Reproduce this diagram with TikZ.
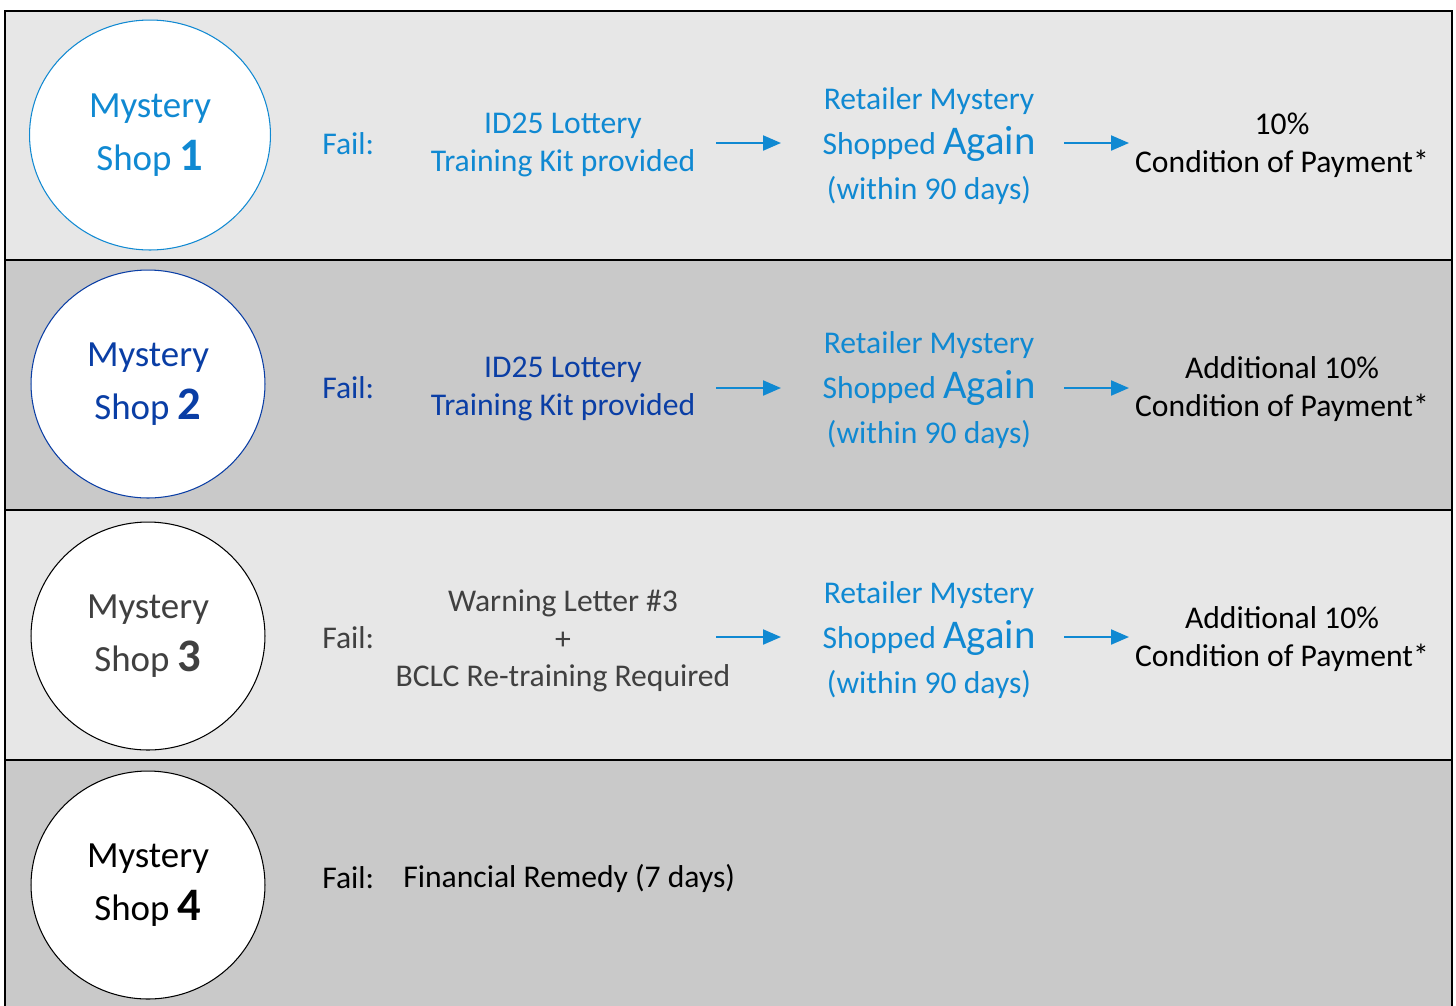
\documentclass[tikz,border=0pt]{standalone}
\usepackage{fontspec}
\setmainfont{Carlito}
\usetikzlibrary{arrows.meta,shapes.geometric}
\definecolor{shopblue}{RGB}{16,137,210}
\definecolor{shopnavy}{RGB}{10,62,165}
\definecolor{shopgrey}{RGB}{64,64,64}
\definecolor{rowlight}{RGB}{231,231,231}
\definecolor{rowdark}{RGB}{201,201,201}
\newcommand{\bodysize}{\fontsize{18}{21.4}\selectfont}
\newcommand{\shopsize}{\fontsize{21}{30}\selectfont}
\newcommand{\shopnum}[1]{{\fontsize{26.5}{30}\selectfont\bfseries #1}}
\newcommand{\again}{{\fontsize{23.2}{25}\selectfont Again}}
\tikzset{
  shop/.style={ellipse, draw, fill=white, minimum width=4.68cm, minimum height=4.56cm,
    align=center, font=\shopsize, line width=0.6pt, inner sep=0pt},
  txt/.style={align=center, font=\bodysize, inner sep=0pt},
  retailer/.style={align=center, font=\fontsize{18}{25.5}\selectfont, inner sep=0pt, shopblue},
  flow/.style={-{Triangle[length=0.36cm,width=0.3cm]}, shopblue, line width=1.2pt},
  rowline/.style={draw=black, line width=1.4pt}
}
\begin{document}
\begin{tikzpicture}[x=0.02cm, y=-0.02cm]
\useasboundingbox (0,0) rectangle (1456,1005);
% rows
\fill[rowlight] (5,11) rectangle (1452,260);
\fill[rowdark] (5,260) rectangle (1452,510);
\fill[rowlight] (5,510) rectangle (1452,760);
\fill[rowdark] (5,760) rectangle (1452,1020);
\draw[rowline] (5,1020) -- (5,11) -- (1452,11) -- (1452,1020);
\draw[rowline] (5,260) -- (1452,260);
\draw[rowline] (5,510) -- (1452,510);
\draw[rowline] (5,760) -- (1452,760);

% row 1
\node[shop, draw=shopblue, text=shopblue, minimum width=4.82cm, minimum height=4.6cm] (shop1) at (150,135) {Mystery\\Shop \shopnum{1}};
\node[txt, shopblue, anchor=west] (fail1) at (322,144) {Fail:};
\node[txt, shopblue] (kit1) at (563,145) {ID25 Lottery\\Training Kit provided};
\node[retailer] (again1) at (929,146) {Retailer Mystery\\Shopped \again\\(within 90 days)};
\node[txt] (pay1) at (1282,145) {10\%\\Condition of Payment*};
\coordinate (a1) at (716,143); \coordinate (b1) at (781,143);
\coordinate (c1) at (1064,143); \coordinate (d1) at (1129,143);
\draw[flow] (a1) -- (b1);
\draw[flow] (c1) -- (d1);

% row 2
\node[shop, draw=shopnavy, text=shopnavy] (shop2) at (148,384) {Mystery\\Shop \shopnum{2}};
\node[txt, shopnavy, anchor=west] (fail2) at (322,388) {Fail:};
\node[txt, shopnavy] (kit2) at (563,389) {ID25 Lottery\\Training Kit provided};
\node[retailer] (again2) at (929,390) {Retailer Mystery\\Shopped \again\\(within 90 days)};
\node[txt] (pay2) at (1282,389) {Additional 10\%\\Condition of Payment*};
\coordinate (a2) at (716,388); \coordinate (b2) at (781,388);
\coordinate (c2) at (1064,388); \coordinate (d2) at (1129,388);
\draw[flow] (a2) -- (b2);
\draw[flow] (c2) -- (d2);

% row 3
\node[shop, draw=black, text=shopgrey] (shop3) at (148,636) {Mystery\\Shop \shopnum{3}};
\node[txt, shopgrey, anchor=west] (fail3) at (322,638) {Fail:};
\node[txt, shopgrey] (letter3) at (563,641) {Warning Letter \#3\\+\\BCLC Re-training Required};
\node[retailer] (again3) at (929,640) {Retailer Mystery\\Shopped \again\\(within 90 days)};
\node[txt] (pay3) at (1282,639) {Additional 10\%\\Condition of Payment*};
\coordinate (a3) at (716,637); \coordinate (b3) at (781,637);
\coordinate (c3) at (1064,637); \coordinate (d3) at (1129,637);
\draw[flow] (a3) -- (b3);
\draw[flow] (c3) -- (d3);

% row 4
\node[shop, draw=black, text=black] (shop4) at (148,885) {Mystery\\Shop \shopnum{4}};
\node[txt, anchor=west] (fail4) at (322,878) {Fail:};
\node[txt, anchor=west] (remedy4) at (403,878) {Financial Remedy (7 days)};
\end{tikzpicture}
\end{document}
